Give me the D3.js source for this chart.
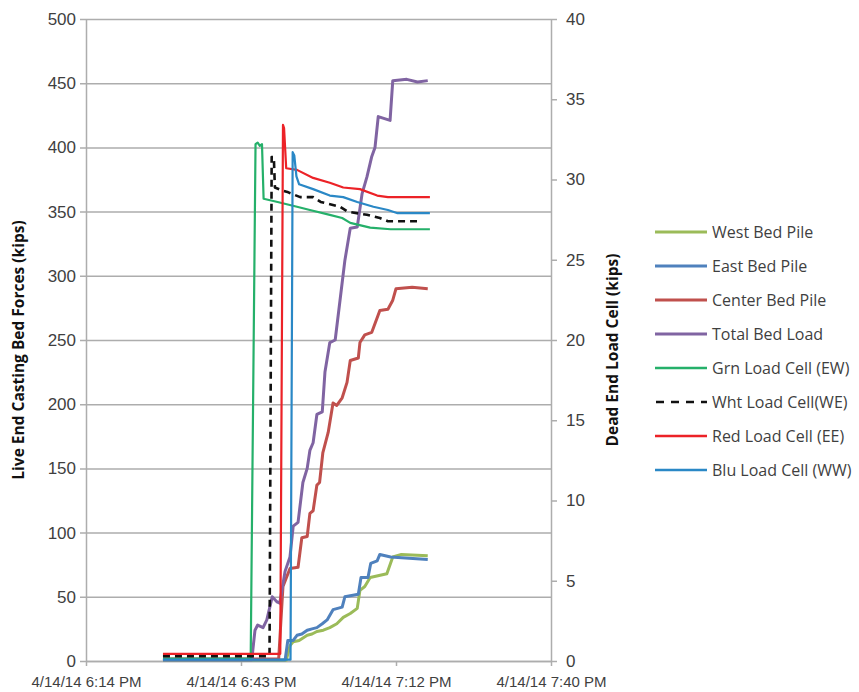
<!DOCTYPE html>
<html>
<head>
<meta charset="utf-8">
<script src="https://cdn.jsdelivr.net/npm/d3@7"></script>
<style>
  html, body { margin: 0; padding: 0; background: #fff; }
  svg { display: block; font-family: "Open Sans", "Noto Sans", sans-serif; }
</style>
</head>
<body>
<svg id="chart" width="859" height="692"></svg>
<script>
// Casting bed pile forces (left axis) and dead-end load cells (right axis), 4/14/14.
// Times are minutes after 6:00 PM.

const westBedPile = [[28.7,0.5],[51.6,0.5],[52.3,12],[52.9,15],[54.0,16],[55.5,20],[56.4,21],[57.3,23],[58.5,24],[59.7,26],[61.0,29],[62.2,34],[63.5,37],[64.8,41],[65.3,55],[66.2,58],[67.2,65],[70.3,68],[71.4,81],[73,83],[77.9,82]];
const eastBedPile = [[28.7,0.8],[51.4,0.8],[51.9,16],[52.9,16],[53.6,20],[54.5,21],[55.5,24],[56.4,25],[57.3,26],[58.3,29],[59.2,32],[60.3,40],[62.0,42],[62.5,50],[65.0,52],[65.5,65],[66.8,65],[67.3,76],[68.5,78],[69.0,83],[71,81],[77.9,79]];
const centerBedPile = [[28.7,1.5],[50.2,1.5],[50.6,30],[51.0,58],[52.3,72],[53.8,73],[54.5,96],[55.5,97],[56.0,115],[56.6,117],[57.3,137],[57.8,139],[58.4,162],[59.4,178],[60.3,201],[61.0,199],[62.0,205],[62.9,217],[63.5,234],[65.0,236],[65.3,248],[66.2,254],[67.5,256],[69.0,273],[70.5,274],[71.4,281],[72,290],[75,291],[77.9,290]];
const totalBedLoad = [[28.7,1],[45.2,1],[45.8,24],[46.3,28],[47.3,26],[48.0,32],[49.0,50],[49.9,46],[50.4,45],[51.4,70],[52.3,81],[52.9,105],[53.8,108],[54.7,139],[55.5,150],[56.0,164],[56.6,170],[57.3,192],[58.3,194],[58.8,225],[59.7,248],[60.7,250],[61.6,281],[62.5,312],[63.5,337],[64.8,338],[65.7,364],[66.6,377],[67.5,393],[68.1,400],[68.7,424],[70.9,421],[71.4,452],[74,453],[76,451],[77.9,452]];

const grnLoadCell = [[28.7,0.15],[45.0,0.15],[45.9,32.2],[46.3,32.3],[46.7,32.1],[47.1,32.2],[47.4,28.8],[50,28.6],[53.6,28.3],[56,28.1],[59.7,27.8],[62,27.6],[63.5,27.3],[67.2,27.0],[71,26.9],[78.3,26.9]];
const whtLoadCell = [[28.7,0.3],[48.5,0.3],[48.9,31.4],[49.3,31.4],[49.5,29.5],[51,29.3],[52,29.2],[54.2,28.9],[56.6,28.9],[58,28.6],[61.6,28.3],[63,28.0],[66.6,27.8],[69,27.6],[70.5,27.4],[75.9,27.4]];
const redLoadCell = [[28.7,0.45],[50.5,0.45],[51.0,33.4],[51.2,33.2],[51.6,30.7],[53.6,30.6],[56.6,30.1],[59.7,29.8],[62.2,29.5],[65.3,29.4],[68.5,29.0],[70.5,28.9],[78.3,28.9]];
const bluLoadCell = [[28.7,0.08],[52.4,0.08],[52.8,31.7],[53.1,31.5],[53.5,30.2],[54,29.7],[56.6,29.4],[59.7,29.0],[62.2,28.9],[64.8,28.6],[67.8,28.3],[70.5,28.1],[72.3,27.9],[78.3,27.9]];

const seriesNames = ["West Bed Pile","East Bed Pile","Center Bed Pile","Total Bed Load",
                     "Grn Load Cell (EW)","Wht Load Cell(WE)","Red Load Cell (EE)","Blu Load Cell (WW)"];
const seriesData = [westBedPile, eastBedPile, centerBedPile, totalBedLoad,
                    grnLoadCell, whtLoadCell, redLoadCell, bluLoadCell];
const seriesAxis = ["left","left","left","left","right","right","right","right"];
const seriesColors = ["#9BBB59","#4F81BD","#C0504D","#8064A2","#25B06A","#111111","#EC2227","#2A88C6"];

const leftTicks = [0,50,100,150,200,250,300,350,400,450,500];
const rightTicks = [0,5,10,15,20,25,30,35,40];
// x ticks fall every 0.02 day (28.8 min), starting at 6:14:24 PM
const xTickMinutes = [14.4, 43.2, 72.0, 100.8];

const leftTitle = "Live End Casting Bed Forces (kips)";
const rightTitle = "Dead End Load Cell (kips)";

const base = new Date(2014, 3, 14, 18, 0, 0);
const toDate = m => new Date(base.getTime() + m * 60000);

const plot = { left: 86, right: 551, top: 19, bottom: 661 };
const svg = d3.select("#chart");

const x = d3.scaleTime()
  .domain([toDate(xTickMinutes[0]), toDate(xTickMinutes[xTickMinutes.length - 1])])
  .range([plot.left, plot.right]);
const yL = d3.scaleLinear().domain([0, 500]).range([plot.bottom, plot.top]);
const yR = d3.scaleLinear().domain([0, 40]).range([plot.bottom, plot.top]);

const gridColor = "#ADADAD";
const labelColor = "#3F3F3F";

// horizontal gridlines with left axis ticks
const leftAxis = d3.axisLeft(yL).tickValues(leftTicks)
  .tickSize(-(plot.right - plot.left)).tickSizeOuter(0).tickPadding(10);
const gL = svg.append("g").attr("transform", `translate(${plot.left},0)`).call(leftAxis);
gL.select(".domain").attr("stroke", gridColor).attr("stroke-width", 1.5);
gL.selectAll(".tick line").attr("stroke", gridColor).attr("stroke-width", 1.5)
  .attr("x1", -6);
gL.selectAll(".tick text").attr("fill", labelColor).style("font-size", "17px");

// right axis
const rightAxis = d3.axisRight(yR).tickValues(rightTicks).tickSize(6).tickSizeOuter(0).tickPadding(9);
const gR = svg.append("g").attr("transform", `translate(${plot.right},0)`).call(rightAxis);
gR.select(".domain").attr("stroke", gridColor).attr("stroke-width", 1.5);
gR.selectAll(".tick line").attr("stroke", gridColor).attr("stroke-width", 1.5);
gR.selectAll(".tick text").attr("fill", labelColor).style("font-size", "17px");

// x axis
const fmt = d3.timeFormat("%-m/%-d/%y %-I:%M %p");
const xAxis = d3.axisBottom(x).tickValues(xTickMinutes.map(toDate)).tickFormat(fmt)
  .tickSize(5).tickSizeOuter(0).tickPadding(10);
const gX = svg.append("g").attr("transform", `translate(0,${plot.bottom})`).call(xAxis);
gX.select(".domain").attr("stroke", gridColor).attr("stroke-width", 1.5);
gX.selectAll(".tick line").attr("stroke", gridColor).attr("stroke-width", 1.5);
gX.selectAll(".tick text").attr("fill", labelColor).style("font-size", "15px");

// axis titles
svg.append("text")
  .attr("transform", `translate(24,${(plot.top + plot.bottom) / 2 + 10}) rotate(-90)`)
  .attr("text-anchor", "middle").attr("fill", "#111")
  .style("font-size", "15.5px").style("font-weight", "bold")
  .text(leftTitle);
svg.append("text")
  .attr("transform", `translate(618,${(plot.top + plot.bottom) / 2 + 10}) rotate(-90)`)
  .attr("text-anchor", "middle").attr("fill", "#111")
  .style("font-size", "15.5px").style("font-weight", "bold")
  .text(rightTitle);

// series lines
const lineFor = axis => d3.line()
  .x(d => x(toDate(d[0])))
  .y(d => (axis === "left" ? yL : yR)(d[1]));

const lines = svg.append("g").attr("fill", "none").attr("stroke-linejoin", "round");
seriesData.forEach((data, i) => {
  const isPile = i < 4;
  const path = lines.append("path")
    .datum(data)
    .attr("d", lineFor(seriesAxis[i]))
    .attr("stroke", seriesColors[i])
    .attr("stroke-width", isPile ? 3 : 2.2);
  if (i === 5) path.attr("stroke-dasharray", "7,5").attr("stroke-width", 2.6);
});

// legend
const legend = svg.append("g");
seriesNames.forEach((name, i) => {
  const yy = 232 + i * 34;
  const ln = legend.append("line")
    .attr("x1", 655).attr("x2", 707).attr("y1", yy).attr("y2", yy)
    .attr("stroke", seriesColors[i]).attr("stroke-width", i < 4 ? 3 : 2.4);
  if (i === 5) ln.attr("stroke-dasharray", "8,7").attr("x1", 656).attr("stroke-width", 2.6);
  legend.append("text")
    .attr("x", 712).attr("y", yy).attr("dy", "0.35em")
    .attr("fill", labelColor).style("font-size", "16px")
    .text(name);
});
</script>
</body>
</html>
